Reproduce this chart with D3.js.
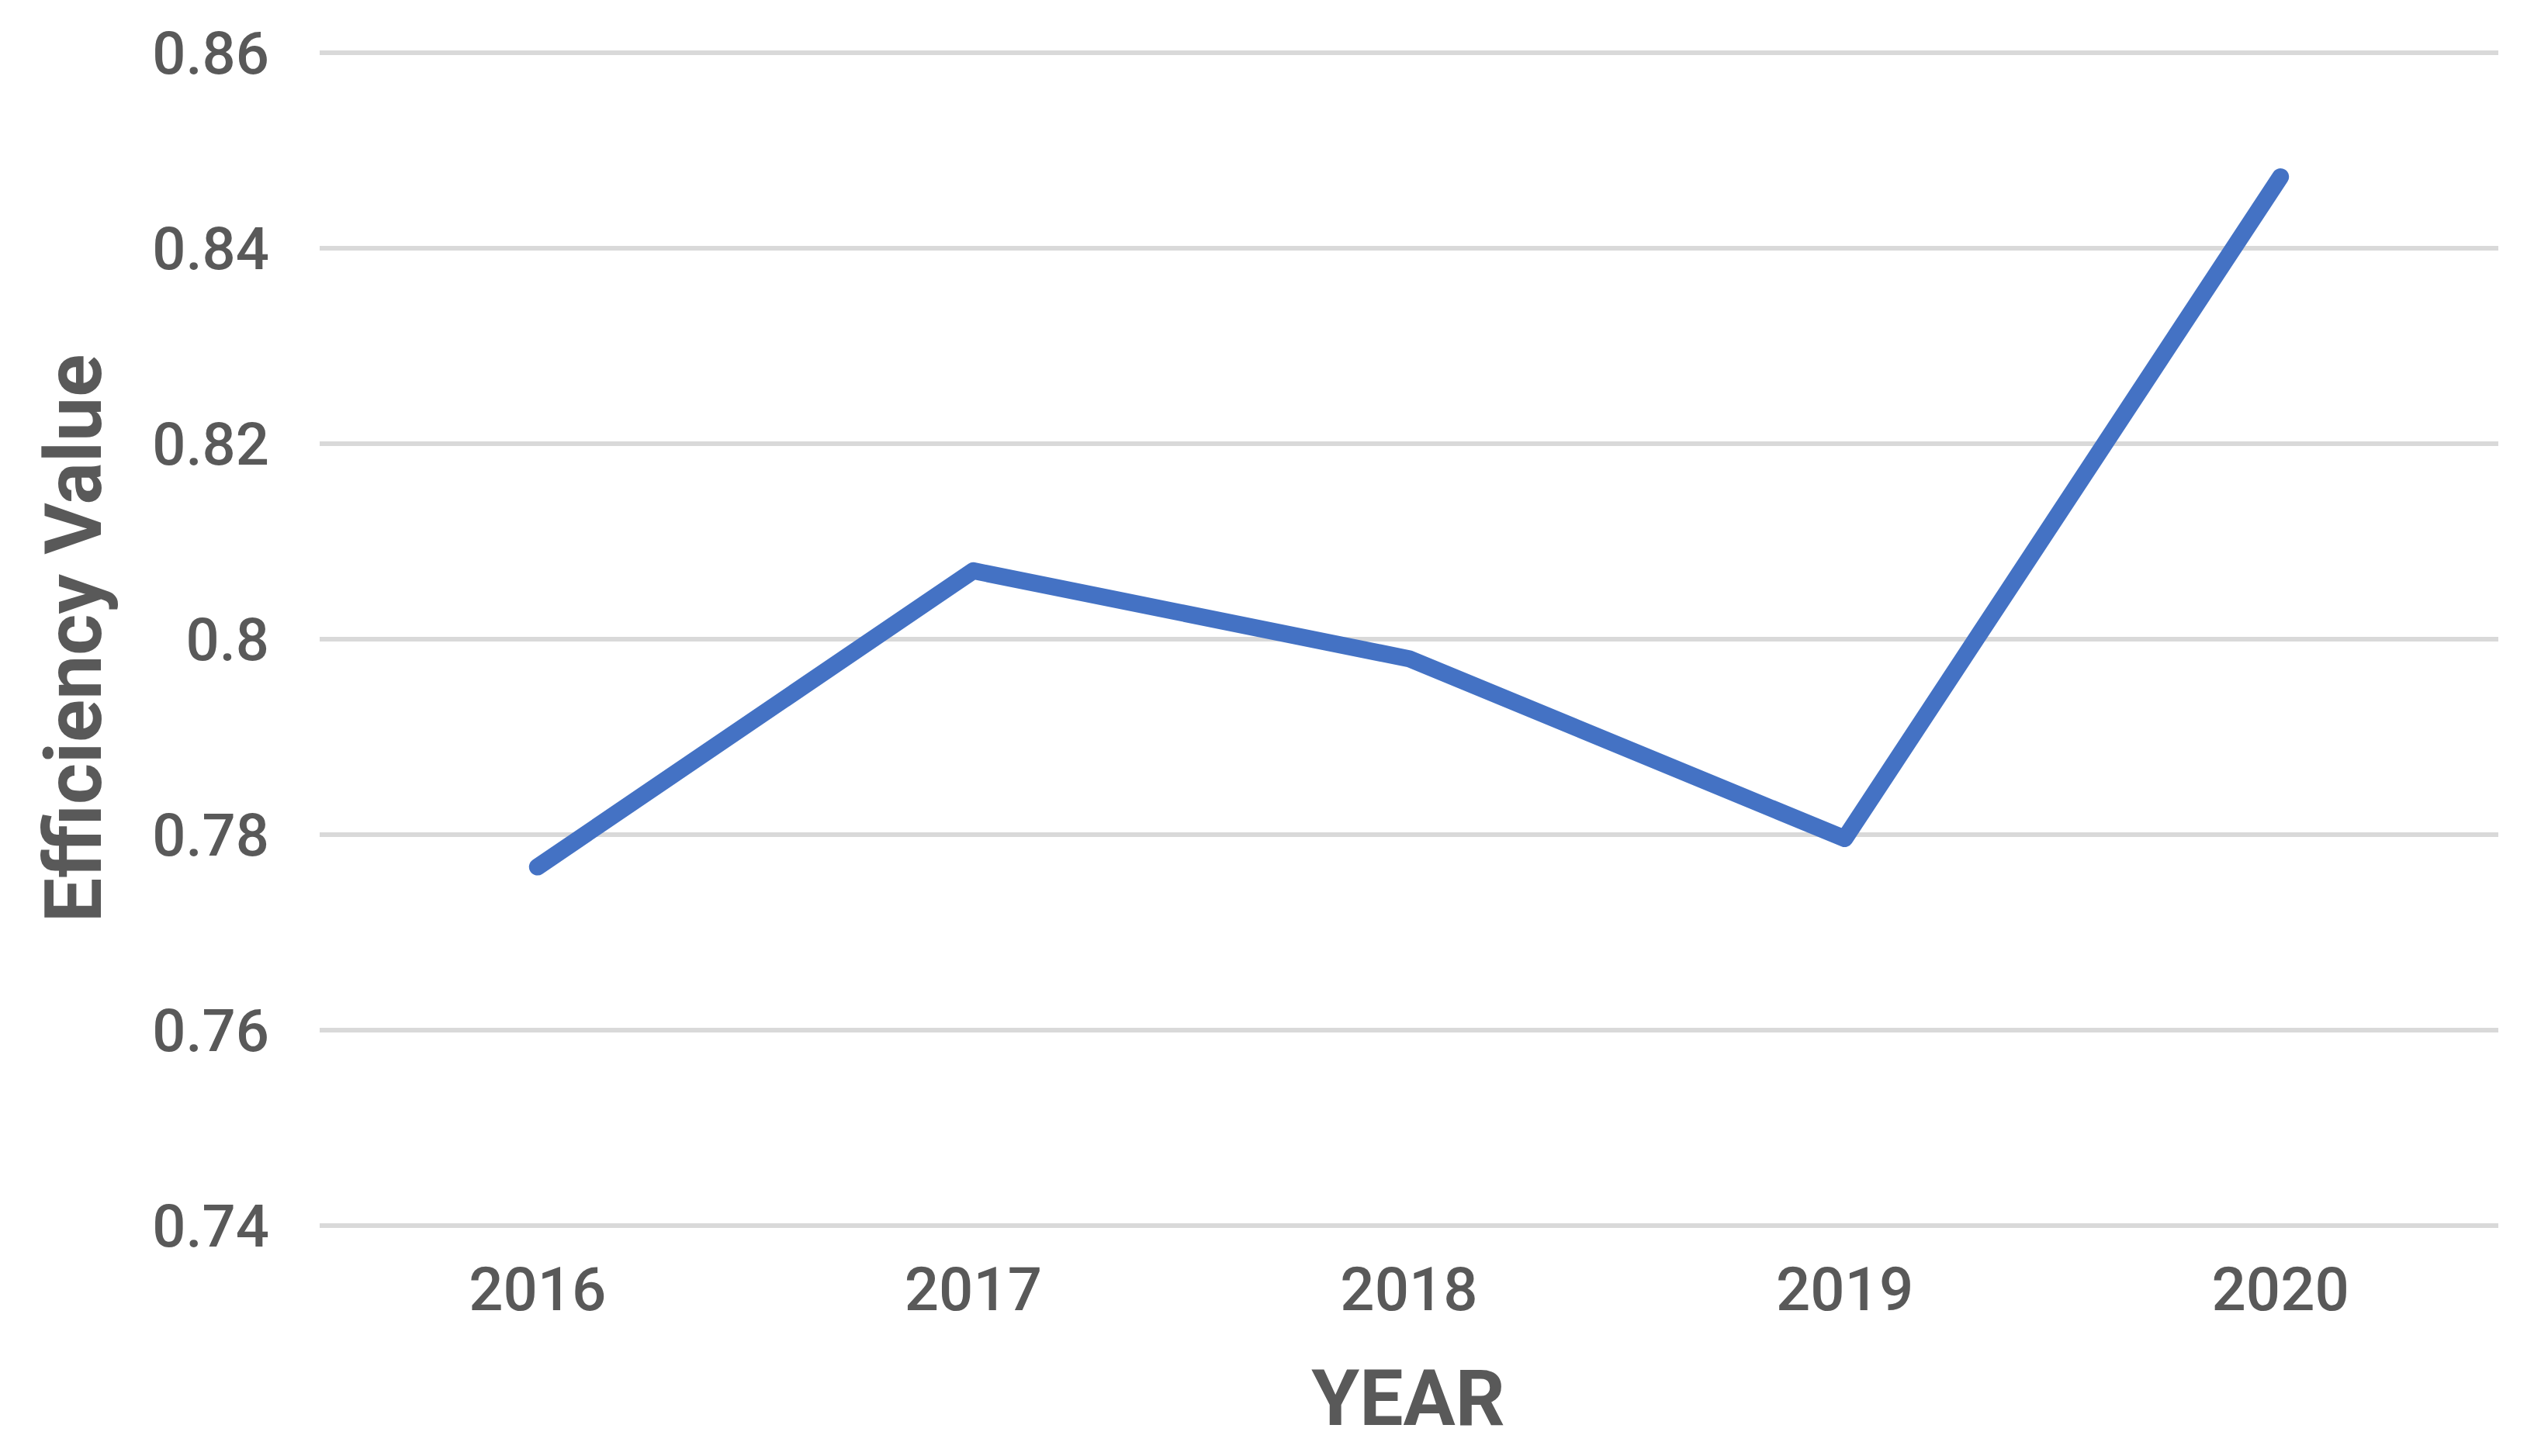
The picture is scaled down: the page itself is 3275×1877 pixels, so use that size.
<!DOCTYPE html>
<html>
<head>
<meta charset="utf-8">
<script src="https://cdn.jsdelivr.net/npm/d3@7"></script>
<style>
  body { margin: 0; background: #fff; }
  text { font-family: Roboto, "Liberation Sans", sans-serif; fill: #595959; }
</style>
</head>
<body>
<div id="chart"></div>
<script>
// data
var years = ["2016", "2017", "2018", "2019", "2020"];
var efficiency = [0.7767, 0.8070, 0.7980, 0.7796, 0.8473];
var yTicks = [0.74, 0.76, 0.78, 0.80, 0.82, 0.84, 0.86];

var width = 3275, height = 1877;
var margin = { top: 68, right: 55, bottom: 297, left: 412 };

var svg = d3.select("#chart")
    .append("svg")
    .attr("width", width)
    .attr("height", height);

var x = d3.scaleBand()
    .domain(years)
    .range([margin.left, width - margin.right]);

var y = d3.scaleLinear()
    .domain([0.74, 0.86])
    .range([height - margin.bottom, margin.top]);

// gridlines
svg.append("g")
    .selectAll("line")
    .data(yTicks)
    .join("line")
    .attr("x1", margin.left)
    .attr("x2", width - margin.right)
    .attr("y1", d => y(d))
    .attr("y2", d => y(d))
    .attr("stroke", "#d9d9d9")
    .attr("stroke-width", 6);

// y tick labels
var fmt = d => d === 0.8 ? "0.8" : d3.format(".2f")(d);
svg.append("g")
    .selectAll("text")
    .data(yTicks)
    .join("text")
    .attr("x", 347)
    .attr("y", d => y(d))
    .attr("dy", "0.36em")
    .attr("text-anchor", "end")
    .attr("font-size", 76)
    .attr("font-weight", 500)
    .text(fmt);

// x tick labels
svg.append("g")
    .selectAll("text")
    .data(years)
    .join("text")
    .attr("x", d => x(d) + x.bandwidth() / 2)
    .attr("y", 1689)
    .attr("text-anchor", "middle")
    .attr("font-size", 78)
    .attr("font-weight", 500)
    .text(d => d);

// the line
var line = d3.line()
    .x((d, i) => x(years[i]) + x.bandwidth() / 2)
    .y(d => y(d));

svg.append("path")
    .datum(efficiency)
    .attr("d", line)
    .attr("fill", "none")
    .attr("stroke", "#4472c4")
    .attr("stroke-width", 22)
    .attr("stroke-linejoin", "round")
    .attr("stroke-linecap", "round");

// axis titles
svg.append("text")
    .attr("x", 1815)
    .attr("y", 1837)
    .attr("text-anchor", "middle")
    .attr("font-size", 100)
    .attr("font-weight", 700)
    .text("YEAR");

svg.append("text")
    .attr("transform", "translate(130,823) rotate(-90)")
    .attr("text-anchor", "middle")
    .attr("font-size", 102)
    .attr("font-weight", 700)
    .text("Efficiency Value");
</script>
</body>
</html>
